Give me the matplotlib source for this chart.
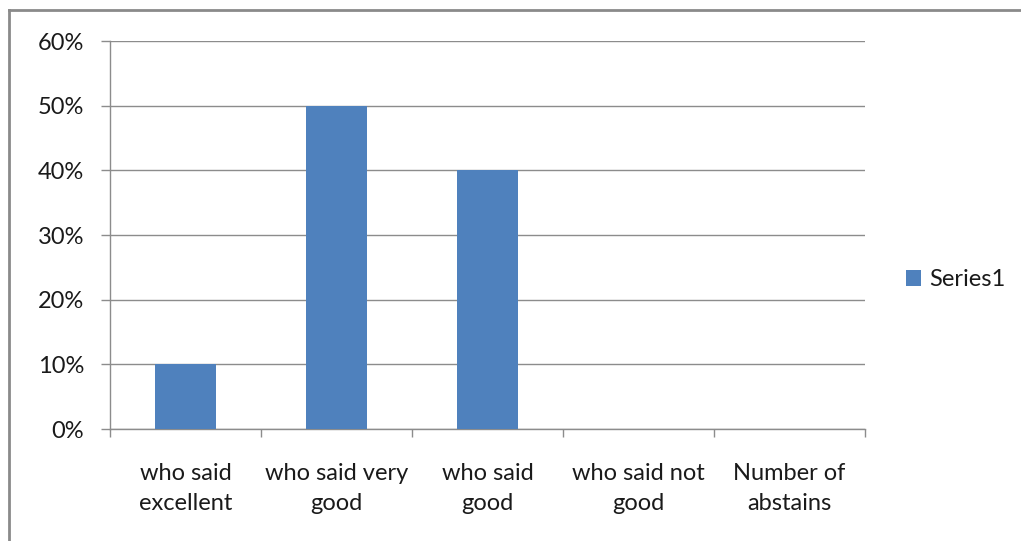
import matplotlib
matplotlib.use("Agg")
import matplotlib.pyplot as plt
from matplotlib.lines import Line2D
from matplotlib.ticker import FuncFormatter

categories = ["who said\nexcellent", "who said very\ngood", "who said\ngood",
              "who said not\ngood", "Number of\nabstains"]
values = [0.10, 0.50, 0.40, 0.0, 0.0]
yticks = [0.0, 0.1, 0.2, 0.3, 0.4, 0.5, 0.6]

plt.rcParams['font.family'] = ['Lato', 'DejaVu Sans']

W, H = 1021, 541
fig = plt.figure(figsize=(W / 100, H / 100), dpi=100)
ax = fig.add_axes([110 / W, 1 - 429 / H, (865 - 110) / W, (429 - 41) / H])

bar_color = "#4f81bd"
x = range(len(categories))
ax.bar(x, values, width=0.4, color=bar_color, label="Series1", zorder=3)

ax.set_xlim(-0.5, len(categories) - 0.5)
ax.set_ylim(0, 0.6)
ax.set_yticks(yticks)
ax.yaxis.set_major_formatter(FuncFormatter(lambda v, p: f"{v * 100:.0f}%"))
ax.grid(axis="y", color="#8c8c8c", linewidth=1, zorder=0)

# category ticks on boundaries, labels at centres
ax.set_xticks([i - 0.5 for i in range(len(categories) + 1)])
ax.set_xticklabels([])
ax.set_xticks(list(x), minor=True)
ax.set_xticklabels(categories, minor=True, fontsize=17, color="#1a1a1a", linespacing=1.55)
ax.tick_params(axis="x", which="minor", length=0, pad=24.5)
ax.tick_params(axis="x", which="major", length=6, color="#8c8c8c", width=1)
ax.tick_params(axis="y", length=6.5, color="#8c8c8c", width=1, labelsize=17,
               labelcolor="#1a1a1a", pad=12)

for s in ["top", "right"]:
    ax.spines[s].set_visible(False)
for s in ["left", "bottom"]:
    ax.spines[s].set_color("#8c8c8c")
    ax.spines[s].set_linewidth(1)

leg = fig.legend(loc="center left", bbox_to_anchor=(894 / W, 1 - 280 / H),
                 frameon=False, fontsize=17, handlelength=0.65, handleheight=0.65,
                 handletextpad=0.35, borderpad=0)
for t in leg.get_texts():
    t.set_color("#1a1a1a")

# outer chart border (only top and left visible in the frame)
fig.add_artist(Line2D([9 / W, 9 / W], [0, 1 - 10 / H], color="#8a8a8a", linewidth=2,
                      transform=fig.transFigure))
fig.add_artist(Line2D([9 / W, 1], [1 - 10 / H, 1 - 10 / H], color="#8a8a8a", linewidth=2,
                      transform=fig.transFigure))

fig.savefig("out.png", dpi=100)
